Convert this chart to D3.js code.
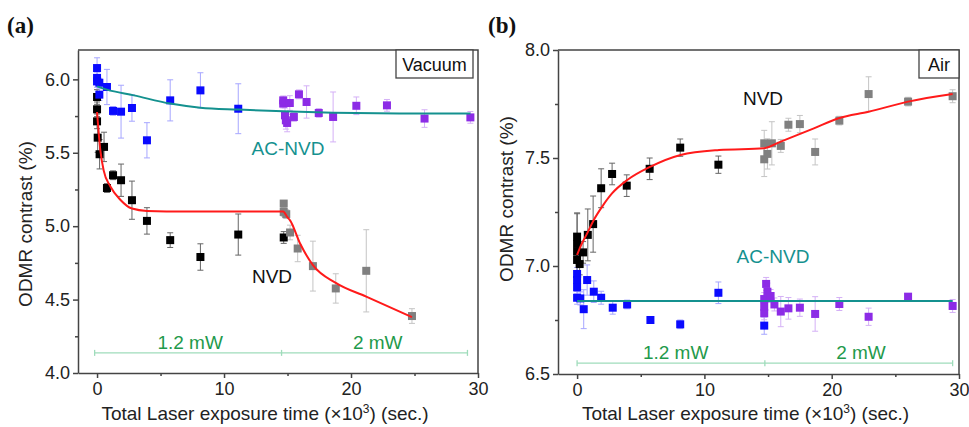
<!DOCTYPE html>
<html>
<head>
<meta charset="utf-8">
<script src="https://cdn.jsdelivr.net/npm/d3@7"></script>
<style>
  body { margin: 0; background: #fff; }
  svg { display: block; font-family: "Liberation Sans", Arial, sans-serif; }
  .tick text { font-size: 18px; fill: #222; }
  .domain, .tick line { stroke: #444; stroke-width: 1.5; }
</style>
</head>
<body>
<svg id="chart" width="969" height="427"></svg>
<script>
// ---- panel (a): vacuum ----
var aBlackX = [0, 0, 0, 0.05, 0.2, 0.55, 0.78, 1.26, 1.89, 2.75, 3.93, 5.76, 8.14, 11.12, 14.7];
var aBlackY = [5.88, 5.796, 5.714, 5.603, 5.49, 5.54, 5.26, 5.347, 5.313, 5.177, 5.036, 4.905, 4.79, 4.943, 4.923];
var aBlackE = [0.05, 0.05, 0.05, 0.1, 0.1, 0.1, 0.03, 0.03, 0.11, 0.13, 0.09, 0.05, 0.09, 0.14, 0.04];

var aGrayX = [14.7, 14.7, 14.9, 15.2, 15.8, 17.0, 18.8, 21.2, 24.8];
var aGrayY = [5.154, 5.097, 5.082, 4.957, 4.848, 4.728, 4.576, 4.696, 4.388];
var aGrayE = [0.02, 0.03, 0.03, 0.05, 0.09, 0.17, 0.1, 0.28, 0.05];

var aBlueX = [0, 0, 0, 0.18, 0.18, 0.78, 1.26, 1.89, 2.75, 3.93, 5.76, 8.14, 11.12];
var aBlueY = [6.077, 6.01, 5.986, 5.977, 5.896, 5.948, 5.785, 5.78, 5.805, 5.585, 5.857, 5.925, 5.80];
var aBlueE = [0.07, 0.04, 0.04, 0.03, 0.04, 0.12, 0.03, 0.18, 0.09, 0.12, 0.14, 0.12, 0.17];

var aPurpleX = [14.66, 14.66, 14.8, 14.87, 14.97, 15.18, 15.5, 15.9, 16.5, 17.46, 18.59, 20.42, 22.83, 25.79, 29.4];
var aPurpleY = [5.857, 5.835, 5.755, 5.721, 5.703, 5.839, 5.744, 5.898, 5.846, 5.771, 5.744, 5.82, 5.823, 5.733, 5.741];
var aPurpleE = [0.03, 0.03, 0.05, 0.06, 0.06, 0.05, 0.03, 0.03, 0.11, 0.03, 0.17, 0.06, 0.04, 0.06, 0.04];

var aRedX = [0, 0.26, 0.52, 1.05, 1.83, 2.75, 3.93, 7, 10, 14.66, 14.97, 15.2, 16.0, 17.0, 18.8, 21.2, 24.8];
var aRedY = [5.778, 5.517, 5.38, 5.27, 5.18, 5.12, 5.104, 5.10, 5.10, 5.10, 5.063, 5.04, 4.88, 4.735, 4.614, 4.52, 4.38];
var aTealX = [0, 0.78, 2.9, 5.76, 8.14, 11.12, 14.66, 18.59, 23.8, 29.4];
var aTealY = [5.952, 5.93, 5.891, 5.835, 5.807, 5.794, 5.782, 5.773, 5.768, 5.767];

var aPowerX = [-0.19, 14.53, 29.17];
var aYTicks = [4.0, 4.5, 5.0, 5.5, 6.0];

// ---- panel (b): air ----
var bBlackX = [0, 0, 0, 0, 0.2, 0.47, 0.84, 1.26, 1.89, 2.75, 3.9, 5.7, 8.1, 11.1];
var bBlackY = [7.136, 7.102, 7.066, 7.028, 7.009, 7.063, 7.144, 7.194, 7.36, 7.426, 7.372, 7.45, 7.548, 7.469];
var bBlackE = [0.11, 0.14, 0.05, 0.1, 0.05, 0.05, 0.12, 0.13, 0.09, 0.05, 0.05, 0.05, 0.04, 0.04];

var bGrayX = [14.7, 14.7, 14.95, 15.3, 16.0, 16.6, 17.5, 18.7, 20.6, 22.9, 26.0, 29.5];
var bGrayY = [7.494, 7.568, 7.519, 7.568, 7.556, 7.654, 7.657, 7.528, 7.673, 7.796, 7.761, 7.786];
var bGrayE = [0.08, 0.06, 0.07, 0.1, 0.03, 0.03, 0.04, 0.06, 0.02, 0.08, 0.02, 0.03];

var bBlueX = [0, 0, 0, 0, 0.25, 0.52, 0.79, 1.31, 1.89, 2.8, 3.93, 5.76, 8.1, 11.1, 14.7];
var bBlueY = [6.963, 6.935, 6.901, 6.853, 6.85, 6.8, 6.935, 6.881, 6.853, 6.807, 6.822, 6.75, 6.73, 6.876, 6.724];
var bBlueE = [0.03, 0.03, 0.03, 0.03, 0.03, 0.09, 0.07, 0.05, 0.03, 0.03, 0.02, 0.01, 0.02, 0.05, 0.04];

var bPurpleX = [14.7, 14.7, 14.7, 14.85, 14.95, 15.2, 15.5, 16.0, 16.6, 17.5, 18.7, 20.6, 22.9, 26.0, 29.5];
var bPurpleY = [6.781, 6.812, 6.847, 6.917, 6.881, 6.861, 6.822, 6.789, 6.804, 6.807, 6.778, 6.824, 6.765, 6.858, 6.815];
var bPurpleE = [0.03, 0.03, 0.03, 0.03, 0.04, 0.03, 0.03, 0.07, 0.05, 0.04, 0.08, 0.03, 0.04, 0.01, 0.03];

var bRedX = [0, 0.26, 0.79, 1.31, 1.97, 2.76, 3.94, 5.77, 8.13, 11.15, 14.7, 16.0, 18.6, 20.55, 22.9, 26.0, 29.5];
var bRedY = [7.051, 7.09, 7.151, 7.213, 7.275, 7.337, 7.398, 7.46, 7.514, 7.537, 7.545, 7.576, 7.637, 7.684, 7.714, 7.761, 7.796];
var bTealX = [0, 29.5];
var bTealY = [6.838, 6.838];

var bPowerX = [0, 14.75, 29.5];
var bYTicks = [6.5, 7.0, 7.5, 8.0];

var xTicks = [0, 10, 20, 30];
var xLabel = "Total Laser exposure time (\u00d710";

var svg = d3.select("#chart");

function zip(xs, ys, es) {
	return xs.map(function(x, i) { return {x: x, y: ys[i], e: es ? es[i] : 0}; });
}

function drawPanel(p) {
	var x = d3.scaleLinear().domain([-1.5, 30]).range([p.left, p.right]);
	var y = d3.scaleLinear().domain(p.yDom).range([p.bottom, p.top]);
	var g = svg.append("g");

	// minor ticks
	var xMinor = d3.range(5, 30, 10);
	var yMinor = p.yTicks.slice(1).map(function(t) { return t - 0.25; });
	g.append("g").attr("transform", "translate(0," + p.bottom + ")")
		.call(d3.axisBottom(x).tickValues(xMinor).tickSize(3).tickFormat(""))
		.select(".domain").remove();
	g.append("g").attr("transform", "translate(" + p.left + ",0)")
		.call(d3.axisLeft(y).tickValues(yMinor).tickSize(3).tickFormat(""))
		.select(".domain").remove();

	// main axes
	g.append("g").attr("transform", "translate(0," + p.bottom + ")")
		.call(d3.axisBottom(x).tickValues(xTicks).tickSize(5).tickSizeOuter(0).tickPadding(4).tickFormat(d3.format("d")));
	g.append("g").attr("transform", "translate(" + p.left + ",0)")
		.call(d3.axisLeft(y).tickValues(p.yTicks).tickSize(5).tickSizeOuter(0).tickPadding(3).tickFormat(d3.format(".1f")));

	// top/right frame
	g.append("path")
		.attr("d", "M" + p.left + "," + p.top + "H" + p.right + "V" + p.bottom)
		.attr("fill", "none").attr("stroke", "#444").attr("stroke-width", 1.5);

	// power bar
	var py = y(p.powerY);
	g.append("path")
		.attr("d", "M" + x(p.powerX[0]) + "," + py + "H" + x(p.powerX[2]))
		.attr("stroke", "#9fdcbb").attr("stroke-width", 1.3);
	g.selectAll(".cap").data(p.powerX).enter().append("line")
		.attr("x1", function(d) { return x(d); }).attr("x2", function(d) { return x(d); })
		.attr("y1", py - 3).attr("y2", py + 3)
		.attr("stroke", "#9fdcbb").attr("stroke-width", 1.3);
	g.append("text").attr("x", x(p.powerLabelX[0])).attr("y", py - 4)
		.attr("text-anchor", "middle").attr("font-size", 19).attr("fill", "#1f9a4c").text("1.2 mW");
	g.append("text").attr("x", x(p.powerLabelX[1])).attr("y", py - 4)
		.attr("text-anchor", "middle").attr("font-size", 19).attr("fill", "#1f9a4c").text("2 mW");

	// error bars + squares
	p.series.forEach(function(s) {
		var pts = zip(s.x, s.y, s.e);
		var eb = g.append("g").attr("stroke", s.bar).attr("stroke-width", 1);
		pts.forEach(function(d) {
			var cx = x(d.x), y0 = y(d.y - d.e), y1 = y(d.y + d.e);
			eb.append("path").attr("d",
				"M" + cx + "," + y0 + "V" + y1 +
				"M" + (cx - 3) + "," + y0 + "H" + (cx + 3) +
				"M" + (cx - 3) + "," + y1 + "H" + (cx + 3));
		});
	});
	p.series.forEach(function(s) {
		g.selectAll(null).data(zip(s.x, s.y)).enter().append("rect")
			.attr("x", function(d) { return x(d.x) - 4; })
			.attr("y", function(d) { return y(d.y) - 4; })
			.attr("width", 8).attr("height", 8)
			.attr("fill", s.color);
	});

	// fit lines
	var line = d3.line().curve(d3.curveMonotoneX)
		.x(function(d) { return x(d.x); }).y(function(d) { return y(d.y); });
	g.append("path").datum(zip(p.tealX, p.tealY)).attr("d", line)
		.attr("fill", "none").attr("stroke", "#14918f").attr("stroke-width", 2);
	g.append("path").datum(zip(p.redX, p.redY)).attr("d", line)
		.attr("fill", "none").attr("stroke", "#ff1a1a").attr("stroke-width", 2);

	// annotations
	p.notes.forEach(function(n) {
		g.append("text").attr("x", n.px).attr("y", n.py).attr("text-anchor", "middle")
			.attr("font-size", 19).attr("fill", n.color).text(n.text);
	});

	// environment box
	g.append("rect").attr("x", p.boxX).attr("y", p.top).attr("width", p.boxW).attr("height", 28)
		.attr("fill", "#fff").attr("stroke", "#444").attr("stroke-width", 1.3);
	g.append("text").attr("x", p.boxX + p.boxW / 2).attr("y", p.top + 21).attr("text-anchor", "middle")
		.attr("font-size", 18).attr("fill", "#111").text(p.box);

	// axis titles
	var xt = g.append("text").attr("x", (p.left + p.right) / 2 - 13).attr("y", 420)
		.attr("text-anchor", "middle").attr("font-size", 19).attr("fill", "#222");
	xt.append("tspan").text(xLabel);
	xt.append("tspan").attr("dy", -7).attr("font-size", 12).text("3");
	xt.append("tspan").attr("dy", 7).text(") (sec.)");
	g.append("text").attr("transform", "translate(" + p.yLabelX + "," + p.yLabelY + ") rotate(-90)")
		.attr("text-anchor", "middle").attr("font-size", 19).attr("fill", "#222").text("ODMR contrast (%)");

	// panel letter
	g.append("text").attr("x", p.letterX).attr("y", 33)
		.attr("font-family", "'Liberation Serif', 'Times New Roman', serif").attr("font-weight", "bold")
		.attr("font-size", 23).attr("fill", "#111").text(p.letter);
}

drawPanel({
	left: 78, right: 478, top: 50, bottom: 373, yDom: [4.0, 6.2], yTicks: aYTicks,
	series: [
		{x: aBlackX, y: aBlackY, e: aBlackE, color: "#000", bar: "#666"},
		{x: aGrayX, y: aGrayY, e: aGrayE, color: "#808080", bar: "#c4c4c4"},
		{x: aBlueX, y: aBlueY, e: aBlueE, color: "#0a0aff", bar: "#a6a6ff"},
		{x: aPurpleX, y: aPurpleY, e: aPurpleE, color: "#8c2be6", bar: "#d4b0f6"}
	],
	redX: aRedX, redY: aRedY, tealX: aTealX, tealY: aTealY,
	powerX: aPowerX, powerY: 4.137, powerLabelX: [7.33, 22.1],
	notes: [{text: "AC-NVD", px: 288, py: 155, color: "#14918f"}, {text: "NVD", px: 272, py: 283, color: "#111"}],
	box: "Vacuum", boxX: 396, boxW: 77,
	yLabelX: 32, yLabelY: 224, letter: "(a)", letterX: 7
});

drawPanel({
	left: 558, right: 959, top: 50, bottom: 374, yDom: [6.5, 8.0], yTicks: bYTicks,
	series: [
		{x: bBlackX, y: bBlackY, e: bBlackE, color: "#000", bar: "#666"},
		{x: bGrayX, y: bGrayY, e: bGrayE, color: "#808080", bar: "#c4c4c4"},
		{x: bBlueX, y: bBlueY, e: bBlueE, color: "#0a0aff", bar: "#a6a6ff"},
		{x: bPurpleX, y: bPurpleY, e: bPurpleE, color: "#8c2be6", bar: "#d4b0f6"}
	],
	redX: bRedX, redY: bRedY, tealX: bTealX, tealY: bTealY,
	powerX: bPowerX, powerY: 6.55, powerLabelX: [7.74, 22.3],
	notes: [{text: "NVD", px: 763, py: 105, color: "#111"}, {text: "AC-NVD", px: 773, py: 263, color: "#14918f"}],
	box: "Air", boxX: 919, boxW: 40,
	yLabelX: 513, yLabelY: 199, letter: "(b)", letterX: 488
});
</script>
</body>
</html>
